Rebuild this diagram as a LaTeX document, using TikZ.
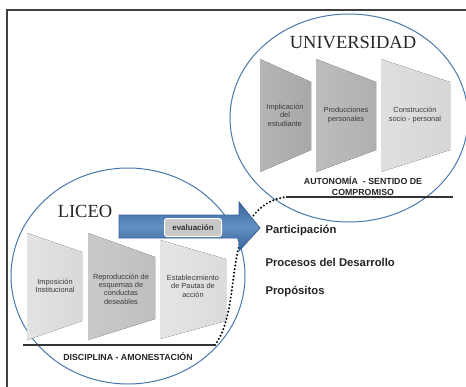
\documentclass[tikz,border=0pt]{standalone}
\usepackage{fontspec}
\setmainfont{Liberation Serif}
\newfontfamily\sansf{Liberation Sans}
\begin{document}
\begin{tikzpicture}[x=1pt,y=-1pt,
  ringline/.style={draw=ring,line width=1pt},
  trap/.style={draw=none},
  traptext/.style={font=\sansf\fontsize{7.4}{8.4}\selectfont,text=txtgray,align=center},
  title/.style={font=\fontsize{18.5}{20}\selectfont,text=black!85},
  caption/.style={font=\sansf\bfseries\fontsize{8.8}{11}\selectfont,align=center,text=black!85},
  listtext/.style={font=\sansf\bfseries\fontsize{11.3}{13}\selectfont,anchor=west,text=black!85},
  baseline/.style={line width=1.2pt,draw=black!80},
  dots/.style={line width=2.2pt,dash pattern=on 0pt off 3.6pt,line cap=round,draw=black}]
\definecolor{ring}{HTML}{4A78AD}
\definecolor{txtgray}{HTML}{3A3A3A}
\definecolor{ablue}{HTML}{4A7CB8}
\definecolor{adark}{HTML}{36639A}
\useasboundingbox (0,0) rectangle (466,386);
\clip (0,0) rectangle (466,386);
\fill[white] (0,0) rectangle (466,386);
% frame
\draw[line width=1.3pt,draw=black!75] (7,390) -- (7,10) -- (470,10);
% ellipses
\draw[ringline] (349,118) ellipse [x radius=119,y radius=104];
\draw[ringline] (128,276) ellipse [x radius=117,y radius=108];
% upper trapezoids
\fill[trap,left color=gray!58,right color=gray!68] (260,59) -- (311,82) -- (311,150) -- (260,172) -- cycle;
\fill[trap,left color=gray!52,right color=gray!62] (316,59) -- (376,82) -- (376,150) -- (316,172) -- cycle;
\fill[trap,left color=gray!25,right color=gray!32] (381,59) -- (450,82) -- (450,150) -- (381,172) -- cycle;
\node[traptext] (u1) at (285,115) {Implicación\\del\\estudiante};
\node[traptext] (u2) at (346,115) {Producciones\\personales};
\node[traptext] (u3) at (415,115) {Construcción\\socio - personal};
% lower trapezoids
\fill[trap,left color=gray!22,right color=gray!30] (27,233) -- (82,252) -- (82,321) -- (27,340) -- cycle;
\fill[trap,left color=gray!42,right color=gray!50] (88,233) -- (155,257) -- (155,319) -- (88,340) -- cycle;
\fill[trap,left color=gray!20,right color=gray!28] (160,240) -- (226,259) -- (226,321) -- (160,339) -- cycle;
\node[traptext] (l1) at (55,286) {Imposición\\Institucional};
\node[traptext] (l2) at (121,289) {Reproducción de\\esquemas de\\conductas\\deseables};
\node[traptext] (l3) at (193,286) {Establecimiento\\de Pautas de\\acción};
% titles
\node[title] (univ) at (353,43) {UNIVERSIDAD};
\node[title] (liceo) at (85,211) {LICEO};
% base lines
\coordinate (lA) at (23,345);
\coordinate (lB) at (215,345);
\coordinate (uA) at (286,197);
\coordinate (uB) at (453,197);
\draw[baseline] (lA) -- (lB);
\draw[baseline] (uA) -- (uB);
\node[caption] (disc) at (128,357) {DISCIPLINA - AMONESTACIÓN};
\node[caption] (auto) at (363,186.5) {AUTONOMÍA \ - SENTIDO DE\\COMPROMISO};
% dotted connector
\draw[dots] (lB) .. controls (232,322) and (231,282) .. (238,250)
  .. controls (243,226) and (258,200) .. (uA);
% arrow
\path[draw=adark,line width=0.8pt,top color=adark,bottom color=adark,middle color=ablue!85!white]
  (119,215) -- (239,215) -- (239,202) -- (260,228) -- (239,251) -- (239,238) -- (119,238) -- cycle;
\node[draw=white,line width=1pt,fill=gray!42,rounded corners=2.5pt,minimum width=57pt,minimum height=18pt,
  font=\sansf\bfseries\fontsize{8}{9}\selectfont,text=black!80,inner sep=0pt] (eval) at (193,227.5) {evaluación};
% list
\node[listtext] (p1) at (262,231) {Participación};
\node[listtext] (p2) at (262,262) {Procesos del Desarrollo};
\node[listtext] (p3) at (262,292) {Propósitos};
\end{tikzpicture}
\end{document}
